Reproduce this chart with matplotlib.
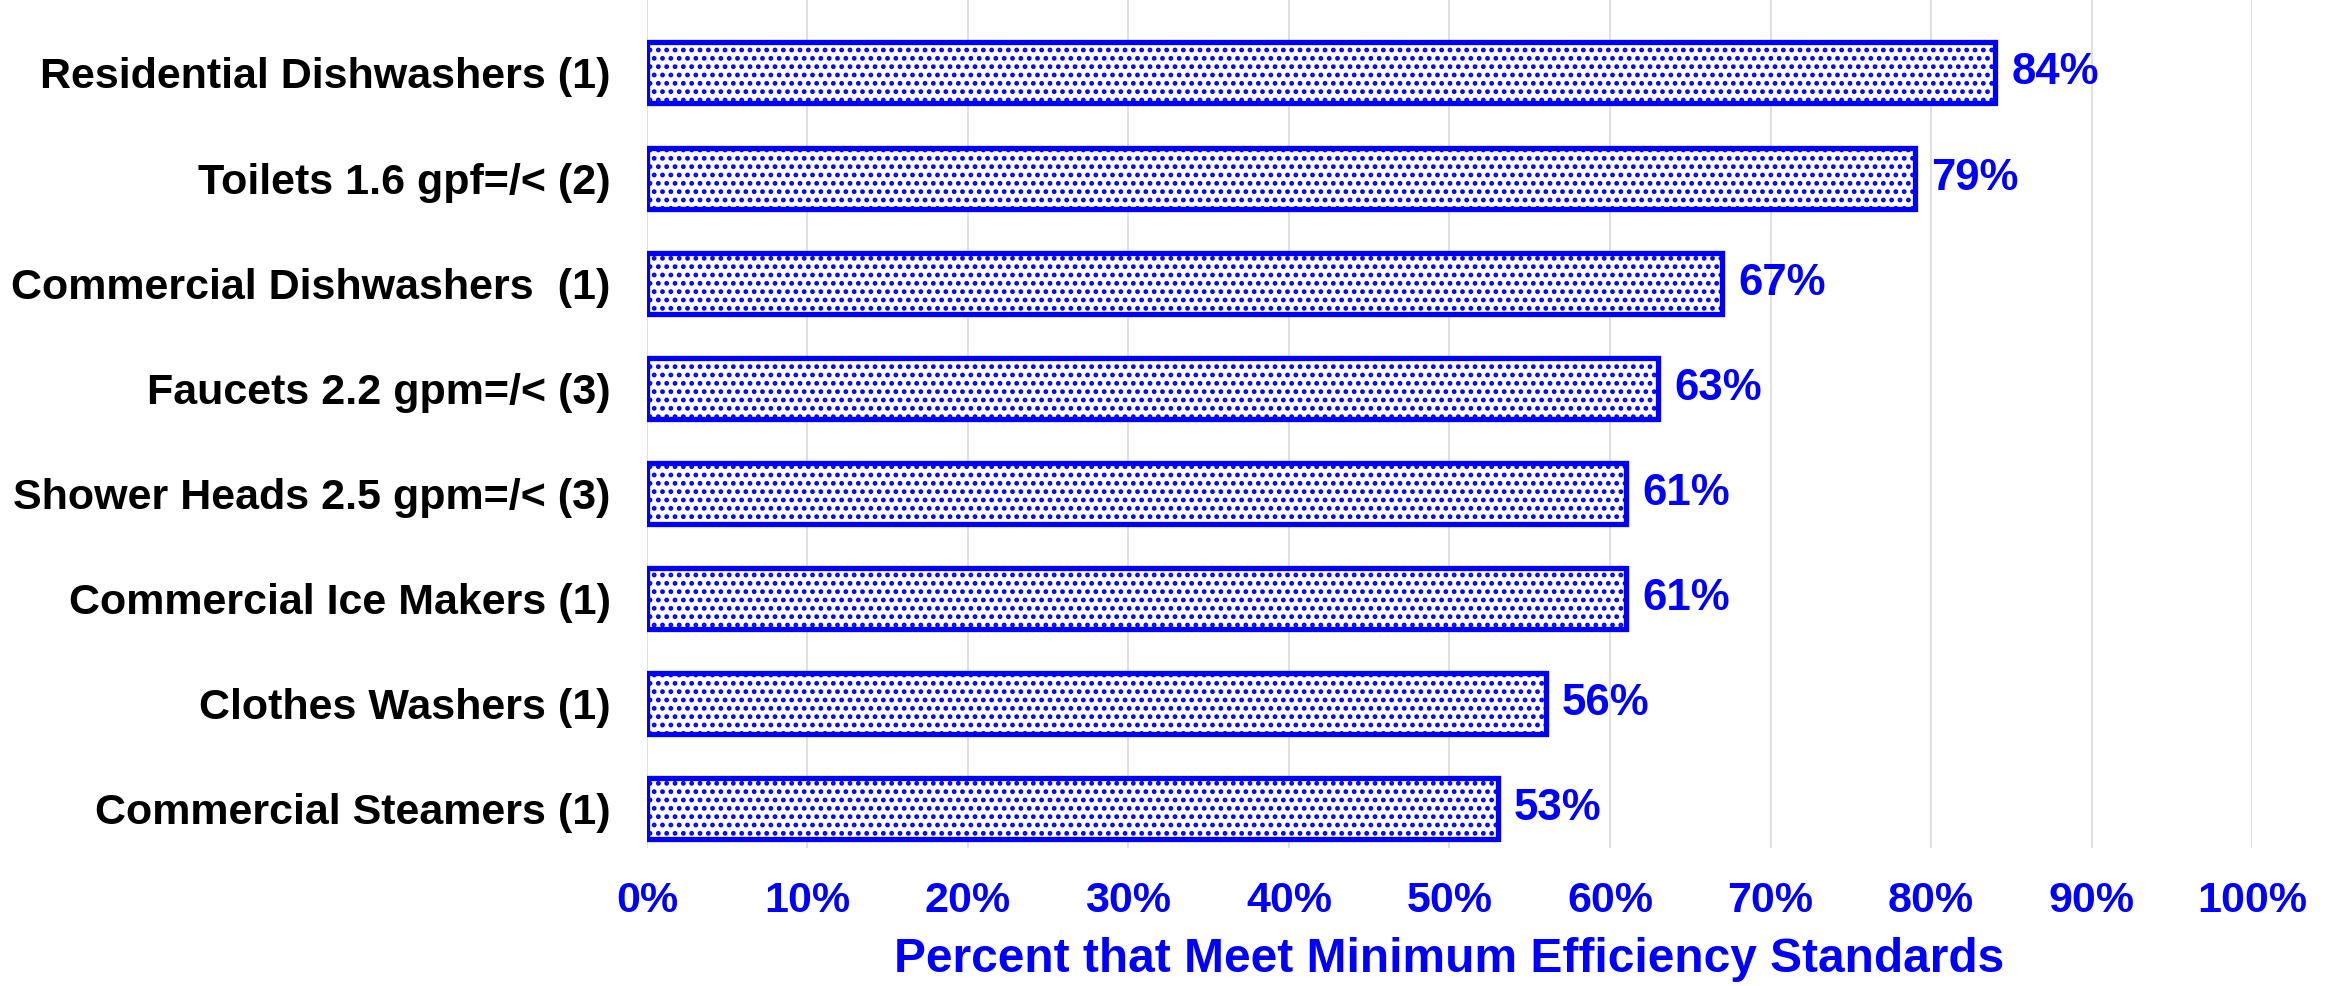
import matplotlib
matplotlib.use("Agg")
import matplotlib.pyplot as plt
from matplotlib.ticker import MultipleLocator, PercentFormatter

# appliance categories, top to bottom
categories = [
    "Residential Dishwashers (1)",
    "Toilets 1.6 gpf=/< (2)",
    "Commercial Dishwashers  (1)",
    "Faucets 2.2 gpm=/< (3)",
    "Shower Heads 2.5 gpm=/< (3)",
    "Commercial Ice Makers (1)",
    "Clothes Washers (1)",
    "Commercial Steamers (1)",
]
# percent meeting minimum efficiency standards
percent_meeting = [84, 79, 67, 63, 61, 61, 56, 53]

x_label = "Percent that Meet Minimum Efficiency Standards"

BLUE = "#0000FF"
plt.rcParams["font.family"] = ["Liberation Sans", "DejaVu Sans"]
plt.rcParams["font.weight"] = "bold"
plt.rcParams["hatch.color"] = BLUE
plt.rcParams["hatch.linewidth"] = 2.2

fig = plt.figure(figsize=(23.33, 9.86), dpi=100)
ax = fig.add_axes([0.2773, 0.140, 0.688, 0.860])

ypos = list(range(len(categories)))
bars = ax.barh(ypos, percent_meeting, height=0.58, color="white",
               edgecolor=BLUE, linewidth=3.8, hatch="..", zorder=3)

# value labels just past the end of each bar
for y, v in zip(ypos, percent_meeting):
    ax.text(v + 1.0, y, f"{v}%", va="center", ha="left",
            color=BLUE, fontsize=31.5, fontweight="bold", zorder=4)

ax.set_xlim(0, 100)
ax.set_ylim(len(categories) - 1 + 0.371, -0.694)
ax.xaxis.set_major_locator(MultipleLocator(10))
ax.xaxis.set_major_formatter(PercentFormatter(decimals=0))

ax.set_yticks(ypos)
ax.set_yticklabels(categories, fontsize=31, fontweight="bold", color="black")
ax.tick_params(axis="y", length=0, pad=26)
ax.tick_params(axis="x", length=0, pad=24, labelsize=31, labelcolor=BLUE)
for lbl in ax.get_xticklabels():
    lbl.set_fontweight("bold")

ax.grid(axis="x", color="#d9d9d9", linewidth=1.2, zorder=0)
for s in ax.spines.values():
    s.set_visible(False)

ax.set_xlabel(x_label, fontsize=34.5, fontweight="bold", color=BLUE, labelpad=11)

fig.savefig("out.png", dpi=100)
